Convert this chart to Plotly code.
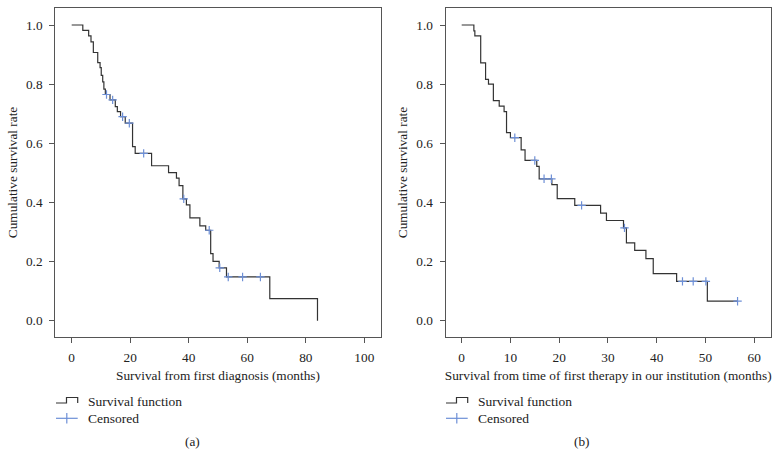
import numpy as np
import plotly.graph_objects as go

# ---------------- data ----------------
# (a) survival from first diagnosis
a_times = [0, 3.8, 5.8, 6.6, 7.4, 8.9, 9.7, 10.1, 10.6, 11.0, 11.5, 13.1, 14.9, 15.6,
           16.7, 18.3, 20.8, 21.7, 27.3, 33.1, 35.8, 36.7, 38.0, 39.2, 40.4, 43.8,
           45.8, 47.5, 48.3, 50.4, 52.9, 67.7, 84.0]
a_surv = [1.0, 0.982, 0.963, 0.943, 0.907, 0.873, 0.856, 0.830, 0.808, 0.783, 0.765,
          0.747, 0.724, 0.707, 0.690, 0.668, 0.589, 0.566, 0.524, 0.501, 0.482, 0.457,
          0.412, 0.392, 0.348, 0.321, 0.306, 0.227, 0.201, 0.179, 0.148, 0.075, 0.0]
a_censored = [11.9, 14.0, 17.4, 19.7, 24.6, 38.3, 47.0, 50.6, 53.5, 58.4, 64.5]
a_last_followup = 84.0

# (b) survival from time of first therapy in our institution
b_times = [0, 2.5, 2.7, 3.9, 4.9, 5.5, 6.5, 7.7, 8.7, 9.2, 10.0, 12.2, 13.0, 15.4,
           15.9, 18.5, 19.6, 23.2, 28.5, 29.7, 33.2, 33.8, 35.5, 37.8, 39.3, 44.1, 50.4]
b_surv = [1.0, 0.980, 0.963, 0.872, 0.816, 0.800, 0.744, 0.726, 0.707, 0.636, 0.619,
          0.578, 0.542, 0.522, 0.480, 0.460, 0.413, 0.390, 0.364, 0.339, 0.314, 0.263,
          0.238, 0.210, 0.159, 0.133, 0.066]
b_censored = [10.9, 15.0, 16.9, 18.4, 24.6, 33.4, 45.3, 47.5, 50.1, 56.6]
b_last_followup = 56.6

y_ticks = [0.0, 0.2, 0.4, 0.6, 0.8, 1.0]
a_x_ticks = [0, 20, 40, 60, 80, 100]
b_x_ticks = [0, 10, 20, 30, 40, 50, 60]

a_xlabel = "Survival from first diagnosis (months)"
b_xlabel = "Survival from time of first therapy in our institution (months)"
ylabel = "Cumulative survival rate"
legend_labels = ["Survival function", "Censored"]
panel_labels = ["(a)", "(b)"]

# ---------------- styling ----------------
W, H = 779, 455
FONT = "Liberation Serif"
TXT = "#222222"
AX = "#555555"
LINE = "#333333"
CENS = "#6d8fd6"
FS = 13.3


def px(x):
    return x / W


def py(y):
    return 1 - y / H


def surv_at(times, surv, t):
    idx = np.searchsorted(np.asarray(times), t, side="right") - 1
    return float(np.asarray(surv)[idx])


fig = go.Figure()

panels = [
    (a_times, a_surv, a_censored, a_last_followup, "x", "y"),
    (b_times, b_surv, b_censored, b_last_followup, "x2", "y2"),
]
for times, surv, cens, last, xa, ya in panels:
    lx = list(times)
    ly = list(surv)
    if lx[-1] < last:
        lx.append(last)
        ly.append(surv[-1])
    fig.add_trace(go.Scatter(x=lx, y=ly, mode="lines", line_shape="hv",
                             line=dict(color=LINE, width=1.2), xaxis=xa, yaxis=ya,
                             showlegend=False, hoverinfo="skip"))
    cy = [surv_at(times, surv, t) for t in cens]
    fig.add_trace(go.Scatter(x=cens, y=cy, mode="markers",
                             marker=dict(symbol="cross-thin", size=6,
                                         line=dict(color=CENS, width=1.2)),
                             xaxis=xa, yaxis=ya, showlegend=False, hoverinfo="skip"))

axis_common = dict(showline=True, mirror=True, linecolor=AX, linewidth=1.2,
                   ticks="outside", ticklen=5, tickcolor=AX, tickwidth=1.2,
                   showgrid=False, zeroline=False,
                   tickfont=dict(family=FONT, size=FS, color=TXT),
                   title_font=dict(family=FONT, size=FS, color=TXT))

y_dom = [py(336.7), py(8.3)]
fig.update_layout(
    width=W, height=H, autosize=False,
    margin=dict(l=0, r=0, t=0, b=0),
    paper_bgcolor="white", plot_bgcolor="white",
    xaxis=dict(domain=[px(55.3), px(380.7)], range=[-5.6, 105.6],
               tickvals=a_x_ticks, anchor="y", ticklabelstandoff=3,
               title=dict(text=a_xlabel, standoff=6), **axis_common),
    yaxis=dict(domain=y_dom, range=[-0.054, 1.0565], tickvals=y_ticks,
               tickformat=".1f", anchor="x", ticklabelstandoff=4,
               title=dict(text=ylabel, standoff=5), **axis_common),
    xaxis2=dict(domain=[px(445.7), px(770.7)], range=[-3.28, 63.4],
                tickvals=b_x_ticks, anchor="y2", ticklabelstandoff=3,
                title=dict(text=b_xlabel, standoff=6), **axis_common),
    yaxis2=dict(domain=y_dom, range=[-0.054, 1.0565], tickvals=y_ticks,
                tickformat=".1f", anchor="x2", ticklabelstandoff=4,
                title=dict(text=ylabel, standoff=5), **axis_common),
)

# ---------------- legends and panel labels ----------------
shapes = []
annotations = []
for off, label in zip([0, 390], panel_labels):
    # step icon for "Survival function"
    x0, x1, x2 = 56 + off, 66.5 + off, 77.7 + off
    ylo, yhi = 403, 397.5
    path = (f"M {px(x0)},{py(ylo)} L {px(x1)},{py(ylo)} L {px(x1)},{py(yhi)} "
            f"L {px(x2)},{py(yhi)} L {px(x2)},{py(ylo)}")
    shapes.append(dict(type="path", xref="paper", yref="paper", path=path,
                       line=dict(color=LINE, width=1.2)))
    # cross icon for "Censored"
    shapes.append(dict(type="line", xref="paper", yref="paper",
                       x0=px(56 + off), x1=px(77.7 + off), y0=py(418.3), y1=py(418.3),
                       line=dict(color=CENS, width=1.2)))
    shapes.append(dict(type="line", xref="paper", yref="paper",
                       x0=px(66.8 + off), x1=px(66.8 + off), y0=py(413), y1=py(423.5),
                       line=dict(color=CENS, width=1.2)))
    for txt, yy in zip(legend_labels, [401, 418.3]):
        annotations.append(dict(text=txt, xref="paper", yref="paper", x=px(86 + off),
                                y=py(yy), xanchor="left", yanchor="middle", showarrow=False,
                                font=dict(family=FONT, size=FS + 0.2, color=TXT)))
    annotations.append(dict(text=label, xref="paper", yref="paper", x=px(192.3 + off),
                            y=py(441.7), xanchor="center", yanchor="middle",
                            showarrow=False, font=dict(family=FONT, size=FS, color=TXT)))

fig.update_layout(shapes=shapes, annotations=annotations)

fig.write_html("out.html",
               config={"displayModeBar": False},
               post_script="document.body.style.margin='0';"
                           "document.body.style.padding='0';"
                           "document.documentElement.style.overflow='hidden';")
